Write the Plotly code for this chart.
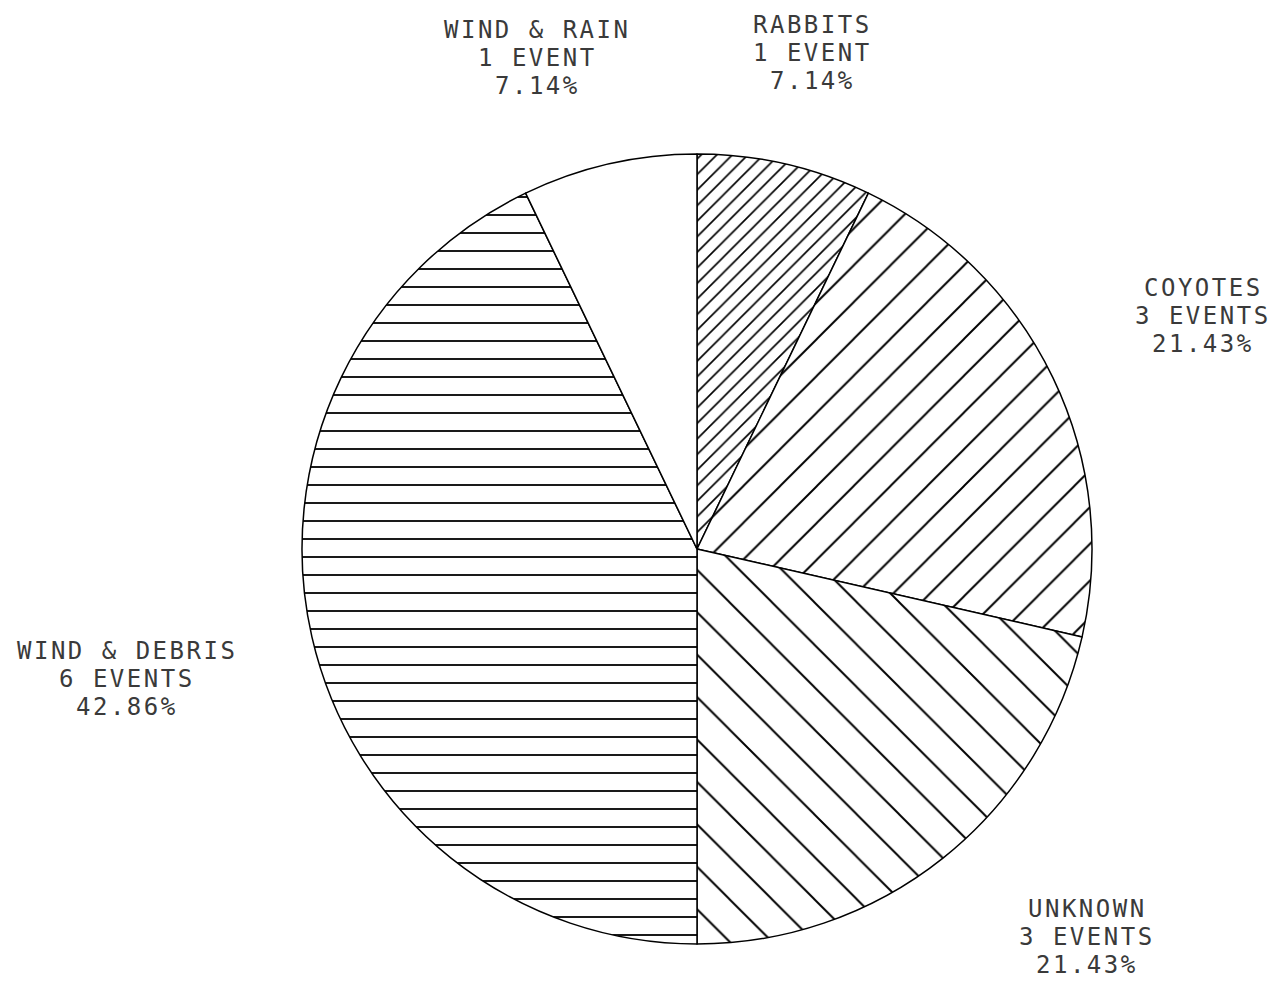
import plotly.graph_objects as go

# ---------------- Data ----------------
causes = ["RABBITS", "COYOTES", "UNKNOWN", "WIND & DEBRIS", "WIND & RAIN"]
events = [1, 3, 3, 6, 1]
event_labels = ["1 EVENT", "3 EVENTS", "3 EVENTS", "6 EVENTS", "1 EVENT"]
percents = ["7.14%", "21.43%", "21.43%", "42.86%", "7.14%"]

# hatch style per slice
hatch = ["/", "/", "\\", "-", ""]
hatch_size = [11, 26, 30, 18, 10]
hatch_solid = [0.15, 0.075, 0.065, 0.1, 0.1]

# label centre (x) and first line (y), in page pixels
label_x = [812, 1203, 1087, 127, 537]
label_y = [25, 288, 909, 651, 30]

W, H = 1285, 987
OFF = 8  # body margin of the page
cx, cy, r = 697 - OFF, 549 - OFF, 395

fig = go.Figure(
    go.Pie(
        labels=causes,
        values=events,
        sort=False,
        direction="clockwise",
        rotation=0,
        textinfo="none",
        hoverinfo="label+value+percent",
        showlegend=False,
        marker=dict(
            colors=["white"] * len(causes),
            line=dict(color="black", width=1.5),
            pattern=dict(
                shape=hatch,
                size=hatch_size,
                solidity=hatch_solid,
                fgcolor="black",
                fgopacity=1,
                bgcolor="white",
                fillmode="overlay",
            ),
        ),
        domain=dict(
            x=[(cx - r) / W, (cx + r) / W],
            y=[(H - cy - r) / H, (H - cy + r) / H],
        ),
    )
)

for name, ev, pct, x, y in zip(causes, event_labels, percents, label_x, label_y):
    for i, line in enumerate([name, ev, pct]):
        fig.add_annotation(
            x=(x - OFF) / W,
            y=1 - (y - OFF + i * 28) / H,
            xref="paper",
            yref="paper",
            xanchor="center",
            yanchor="middle",
            borderpad=0,
            text=f'<span style="letter-spacing:2.5px">{line}</span>',
            showarrow=False,
            font=dict(family="DejaVu Sans Mono", size=24, color="#3a3a3a"),
        )

fig.update_layout(
    width=W,
    height=H,
    margin=dict(l=0, r=0, t=0, b=0),
    paper_bgcolor="white",
    plot_bgcolor="white",
)

fig.write_html("out.html")
